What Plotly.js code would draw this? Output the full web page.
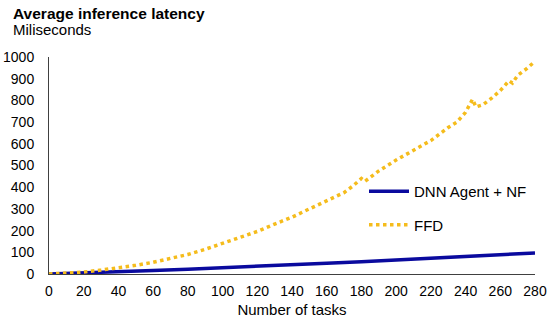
<!DOCTYPE html>
<html><head><meta charset="utf-8">
<script src="https://cdn.plot.ly/plotly-3.0.1.min.js"></script>
<style>html,body{margin:0;padding:0;background:#fff;}#chart{width:550px;height:326px;}</style>
</head><body><div id="chart"></div>
<script>
const dnnTasks = [0, 20, 40, 60, 80, 100, 120, 140, 160, 180, 200, 220, 240, 260, 280];
const dnnLatency = [0, 4, 10, 16, 22, 28, 35, 42, 50, 57, 65, 72, 80, 88, 97];

const ffdTasks = [0, 10, 20, 30, 40, 50, 60, 70, 80, 90, 100, 110, 120, 130, 140, 150, 160, 170, 175, 180, 182, 190, 200, 210, 220, 230, 235, 240, 244, 246, 250, 255, 260, 265, 267, 270, 275, 280];
const ffdLatency = [0, 3, 9, 18, 28, 40, 54, 70, 90, 114, 140, 166, 196, 230, 262, 300, 337, 375, 405, 440, 427, 475, 525, 568, 615, 675, 700, 745, 805, 770, 780, 810, 845, 890, 880, 915, 945, 980];

const xTicks = [0,20,40,60,80,100,120,140,160,180,200,220,240,260,280];
const yTicks = [0,100,200,300,400,500,600,700,800,900,1000];

const traces = [
  {x: dnnTasks, y: dnnLatency, name: 'DNN Agent + NF', mode: 'lines', legendgroup: 'a',
   line: {color: '#0A0A9E', width: 3.5}},
  {x: ffdTasks, y: ffdLatency, name: 'FFD', mode: 'lines', legendgroup: 'b',
   line: {color: '#F5BC1C', width: 3.5, dash: 'dot'}}
];

const layout = {
  width: 550, height: 326,
  margin: {l: 49, r: 15, t: 57, b: 52},
  paper_bgcolor: '#fff', plot_bgcolor: '#fff',
  font: {family: 'Liberation Sans, Arial, sans-serif', color: '#000', size: 14},
  showlegend: true,
  legend: {x: 0.67, xanchor: 'left', y: 0.5, yanchor: 'middle', font: {size: 15}, itemwidth: 40,
           traceorder: 'grouped', tracegroupgap: 11, bgcolor: 'rgba(0,0,0,0)'},
  xaxis: {range: [0, 280], tickvals: xTicks, ticktext: xTicks.map(String), showgrid: false, zeroline: false,
          showline: true, linecolor: '#404040', linewidth: 1, ticks: 'outside', ticklen: 4, tickcolor: 'rgba(0,0,0,0)',
          tickfont: {size: 14}, title: {text: 'Number of tasks', font: {size: 15}, standoff: 6}},
  yaxis: {range: [0, 1000], tickvals: yTicks, ticktext: yTicks.map(String), showgrid: false, zeroline: false,
          showline: true, linecolor: '#404040', linewidth: 1, ticks: 'outside', ticklen: 11, tickcolor: 'rgba(0,0,0,0)',
          tickfont: {size: 14}},
  annotations: [
    {xref: 'paper', yref: 'paper', x: 0, y: 0, showarrow: false, text: '<b>Average inference latency</b>',
     font: {size: 15.5}, xanchor: 'left', yanchor: 'middle'},
    {xref: 'paper', yref: 'paper', x: 0, y: 0, showarrow: false, text: 'Miliseconds',
     font: {size: 15}, xanchor: 'left', yanchor: 'middle'}
  ]
};
const plotH = 326 - 57 - 52, plotW = 550 - 49 - 15;
function px2paperY(py){ return (326 - 52 - py) / plotH; }
function px2paperX(px){ return (px - 49) / plotW; }
layout.annotations[0].x = px2paperX(11); layout.annotations[0].y = px2paperY(13);
layout.annotations[1].x = px2paperX(11); layout.annotations[1].y = px2paperY(30);
layout.legend.x = px2paperX(364);
layout.legend.y = px2paperY(208);

Plotly.newPlot('chart', traces, layout, {displayModeBar: false, staticPlot: true});
</script></body></html>
